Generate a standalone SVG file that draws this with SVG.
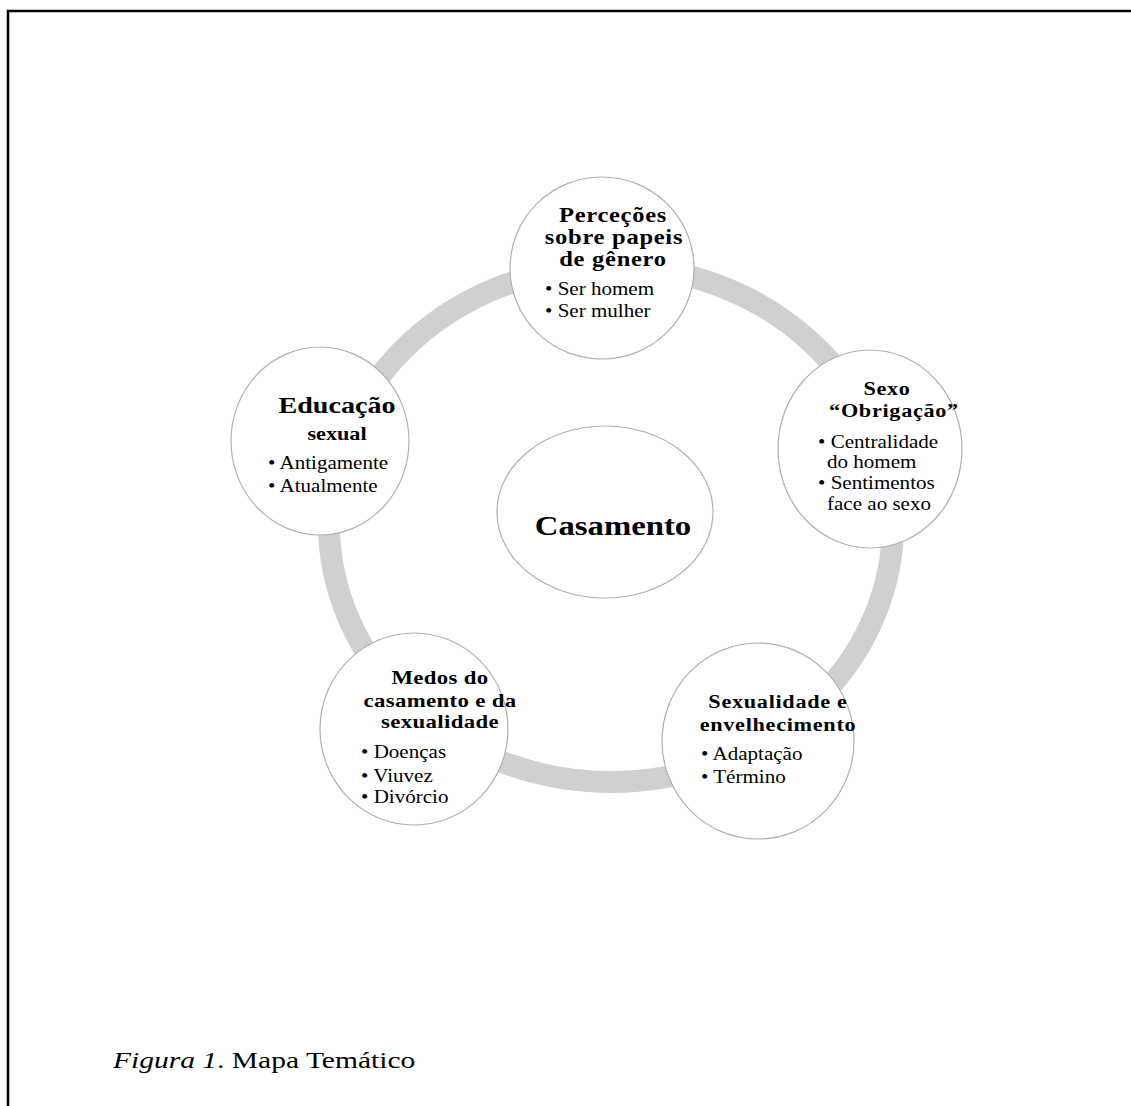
<svg xmlns="http://www.w3.org/2000/svg" width="1131" height="1106" viewBox="0 0 1131 1106">
<style>
.t{font-family:"Liberation Serif","Times New Roman",serif;fill:#000}
.h{font-weight:bold;font-size:21px;letter-spacing:0.6px}
.h2{font-weight:bold;font-size:19px;letter-spacing:0.6px}
.h3{font-weight:bold;font-size:19.5px;letter-spacing:0.3px}
.i{font-size:18px}
.node{fill:#fff;stroke:#b0b0b0;stroke-width:1.2}
</style>
<rect width="1131" height="1106" fill="#fff"/>
<path d="M8,1106 V11 H1131" fill="none" stroke="#000" stroke-width="2.5"/>
<g id="connectors">
<ellipse cx="611" cy="524" rx="282" ry="258" fill="none" stroke="#d0d0d0" stroke-width="22"/>
</g>
<g id="node-center">
<ellipse class="node" cx="605" cy="512" rx="108" ry="86"/>
<text class="t" font-weight="bold" font-size="28" text-anchor="middle" transform="translate(613 535) scale(1.17 1)">Casamento</text>
</g>
<g id="node-top">
<ellipse class="node" cx="602" cy="268" rx="92" ry="91"/>
<g class="t">
<text class="h" text-anchor="middle" transform="translate(613 222) scale(1.17 1)">Perceções</text>
<text class="h" text-anchor="middle" transform="translate(614 244) scale(1.17 1)">sobre papeis</text>
<text class="h" text-anchor="middle" transform="translate(613 266) scale(1.17 1)">de gênero</text>
<text class="i" transform="translate(545 295) scale(1.17 1)">• Ser homem</text>
<text class="i" transform="translate(545 317) scale(1.17 1)">• Ser mulher</text>
</g>
</g>
<g id="node-right">
<ellipse class="node" cx="870" cy="449" rx="92" ry="99"/>
<g class="t">
<text class="h2" text-anchor="middle" transform="translate(887 395) scale(1.17 1)">Sexo</text>
<text class="h2" text-anchor="middle" transform="translate(894 417) scale(1.17 1)">“Obrigação”</text>
<text class="i" transform="translate(818 448) scale(1.17 1)">• Centralidade</text>
<text class="i" transform="translate(827 468) scale(1.17 1)">do homem</text>
<text class="i" transform="translate(818 489) scale(1.17 1)">• Sentimentos</text>
<text class="i" transform="translate(827 510) scale(1.17 1)">face ao sexo</text>
</g>
</g>
<g id="node-bottom-right">
<ellipse class="node" cx="758" cy="741" rx="96" ry="98"/>
<g class="t">
<text class="h2" text-anchor="middle" transform="translate(778 708) scale(1.17 1)">Sexualidade e</text>
<text class="h2" text-anchor="middle" transform="translate(778 731) scale(1.17 1)">envelhecimento</text>
<text class="i" transform="translate(701 760) scale(1.17 1)">• Adaptação</text>
<text class="i" transform="translate(701 783) scale(1.17 1)">• Término</text>
</g>
</g>
<g id="node-bottom-left">
<ellipse class="node" cx="414" cy="729" rx="94" ry="96"/>
<g class="t">
<text class="h3" text-anchor="middle" transform="translate(440 684) scale(1.17 1)">Medos do</text>
<text class="h3" text-anchor="middle" transform="translate(440 707) scale(1.17 1)">casamento e da</text>
<text class="h3" text-anchor="middle" transform="translate(440 728) scale(1.17 1)">sexualidade</text>
<text class="i" transform="translate(361 758) scale(1.17 1)">• Doenças</text>
<text class="i" transform="translate(361 782) scale(1.17 1)">• Viuvez</text>
<text class="i" transform="translate(361 803) scale(1.17 1)">• Divórcio</text>
</g>
</g>
<g id="node-left">
<ellipse class="node" cx="320" cy="441" rx="89" ry="94"/>
<g class="t">
<text font-weight="bold" font-size="24" text-anchor="middle" transform="translate(337 413) scale(1.17 1)">Educação</text>
<text font-weight="bold" font-size="19" text-anchor="middle" transform="translate(337 440) scale(1.17 1)">sexual</text>
<text class="i" transform="translate(268 469) scale(1.17 1)">• Antigamente</text>
<text class="i" transform="translate(268 492) scale(1.17 1)">• Atualmente</text>
</g>
</g>
<g id="caption">
<text class="t" font-size="24" transform="translate(113 1068) scale(1.23 1)"><tspan font-style="italic">Figura 1</tspan>. Mapa Temático</text>
</g>
</svg>
